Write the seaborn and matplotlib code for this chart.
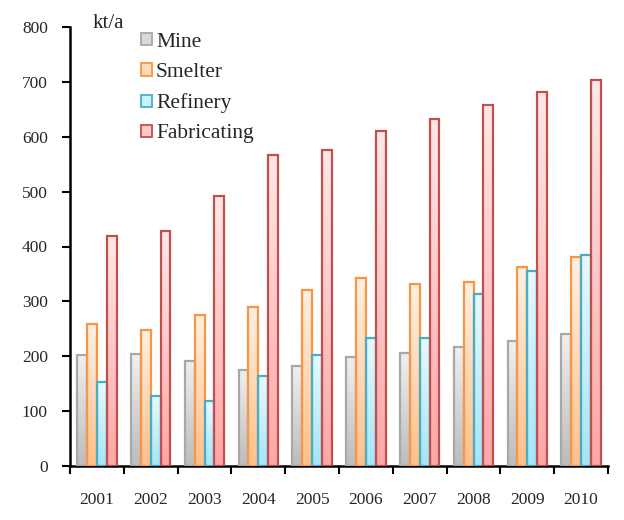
import numpy as np
import pandas as pd
import matplotlib
matplotlib.use("Agg")
import matplotlib.pyplot as plt
from matplotlib.patches import Rectangle
from matplotlib.colors import LinearSegmentedColormap
import seaborn as sns

years = ["2001", "2002", "2003", "2004", "2005", "2006", "2007", "2008", "2009", "2010"]
mine = [203, 205, 192, 175, 182, 199, 206, 217, 227, 241]
smelter = [258, 248, 276, 290, 321, 342, 331, 335, 363, 381]
refinery = [153, 128, 118, 164, 203, 234, 234, 314, 356, 384]
fabricating = [419, 429, 492, 566, 576, 611, 632, 657, 681, 703]
series = ["Mine", "Smelter", "Refinery", "Fabricating"]

df = pd.DataFrame({
    "year": years * 4,
    "stage": [s for s in series for _ in years],
    "value": mine + smelter + refinery + fabricating,
})

# (top colour, bottom colour, edge colour) for each stage
styles = {
    "Mine": ("#f0f0f0", "#bcbcbc", "#a8a8a8"),
    "Smelter": ("#fff0e2", "#ffc088", "#f79646"),
    "Refinery": ("#e6faff", "#a2e6fa", "#4bacc6"),
    "Fabricating": ("#ffe8e8", "#ffa6a6", "#c0504d"),
}

sns.set_style("white")
plt.rcParams["font.family"] = ["Liberation Serif", "DejaVu Serif"]

fig = plt.figure(figsize=(6.24, 5.2), dpi=100)
ax = fig.add_axes([70 / 624, 54 / 520, 538 / 624, 439 / 520])

sns.barplot(data=df, x="year", y="value", hue="stage", order=years,
            hue_order=series, width=0.73, gap=0, ax=ax, legend=False,
            palette=[styles[s][1] for s in series])

# gradient fill inside each bar, darker toward the base
grad = np.linspace(0, 1, 256).reshape(-1, 1)
for container, name in zip(ax.containers, series):
    top, bottom, edge = styles[name]
    cmap = LinearSegmentedColormap.from_list(name, [bottom, top])
    for bar in container:
        x, w, h = bar.get_x(), bar.get_width(), bar.get_height()
        bar.set_facecolor("none")
        bar.set_edgecolor(edge)
        bar.set_linewidth(1.6)
        bar.set_zorder(3)
        im = ax.imshow(grad, extent=[x, x + w, 0, h], origin="lower",
                       cmap=cmap, aspect="auto", zorder=2)
        im.set_clip_path(bar)

ax.set_xlim(-0.5, 9.5)
ax.set_ylim(0, 800)
ax.set_yticks(range(0, 801, 100))
ax.set_xticks(np.arange(-0.5, 10, 1))
ax.set_xticklabels([])
ax.set_xticks(range(10), minor=True)
ax.set_xticklabels(years, minor=True)
ax.tick_params(axis="x", which="major", direction="out", length=6, width=1.5,
               color="black", bottom=True)
ax.tick_params(axis="x", which="minor", length=0, pad=19, labelsize=12.5)
ax.tick_params(axis="y", direction="out", length=6, width=1.5, color="black",
               left=True, pad=10, labelsize=12.5)
ax.set_xlabel("")
ax.set_ylabel("")
for side in ["top", "right"]:
    ax.spines[side].set_visible(False)
for side in ["left", "bottom"]:
    ax.spines[side].set_color("black")
    ax.spines[side].set_linewidth(1.8)

fig.text(93 / 624, 1 - 23 / 520, "kt/a", fontsize=15, va="center", ha="left")

handles = []
for s in series:
    top, bottom, edge = styles[s]
    mid = LinearSegmentedColormap.from_list(s, [bottom, top])(0.55)
    handles.append(Rectangle((0, 0), 1, 1, facecolor=mid, edgecolor=edge, linewidth=1.3))
ax.legend(handles, series, loc="upper left", bbox_to_anchor=(141 / 624, 1 - 33 / 520),
          bbox_transform=fig.transFigure, frameon=False, fontsize=15.5,
          handlelength=0.5, handleheight=0.5, handletextpad=0.2, labelspacing=0.52,
          borderpad=0, borderaxespad=0)

fig.savefig("out.png", dpi=100)
